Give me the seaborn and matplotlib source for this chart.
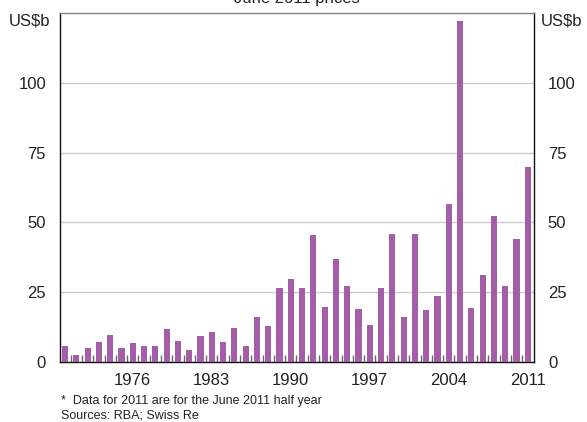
import matplotlib
matplotlib.use("Agg")
import matplotlib.pyplot as plt
import numpy as np
import pandas as pd
import seaborn as sns

# insured catastrophe losses by year, US$b in June 2011 prices (2011 = first half only)
years = list(range(1970, 2012))
losses = [
    5.6, 2.4, 4.9, 7.1, 9.6, 4.9, 6.7, 5.6, 5.6, 11.8,
    7.5, 4.2, 9.3, 10.7, 7.1, 12.1, 5.6, 16.1, 12.9, 26.6,
    29.8, 26.5, 45.5, 19.6, 36.9, 27.2, 18.9, 13.2, 26.5, 45.9,
    16.0, 45.9, 18.6, 23.6, 56.6, 122.0, 19.3, 31.1, 52.3, 27.2,
    44.1, 69.9,
]
year_labels = ["1976", "1983", "1990", "1997", "2004", "2011"]
y_ticks = [0, 25, 50, 75, 100]

BAR_COLOUR = "#a45ea8"

sns.set_theme(style="white")
plt.rcParams["font.family"] = ["Liberation Sans", "DejaVu Sans"]

df = pd.DataFrame({"year": [str(y) for y in years], "loss": losses})

fig = plt.figure(figsize=(5.87, 4.22), dpi=100)
ax = fig.add_axes([0.1022, 0.1422, 0.8075, 0.8268])

sns.barplot(data=df, x="year", y="loss", color=BAR_COLOUR, width=0.55,
            saturation=1, linewidth=0, ax=ax, zorder=3)

ax.set_ylim(0, 125)
ax.set_xlim(-0.45, 41.55)
ax.set_yticks(y_ticks)
ax.set_yticklabels([str(v) for v in y_ticks])
ax.yaxis.grid(True, color="#cccccc", linewidth=1, zorder=0)
ax.xaxis.grid(False)

# year labels sit under their own bars
label_pos = [years.index(int(y)) for y in year_labels]
ax.set_xticks(label_pos)
ax.set_xticklabels(year_labels)
ax.set_xticks(np.arange(0.5, len(years) - 1, 1), minor=True)
ax.tick_params(axis="x", which="major", length=0, labelsize=12, colors="#222222", pad=8)
ax.tick_params(axis="x", which="minor", direction="in", length=5, width=1,
               color="#666666", bottom=True)
ax.tick_params(axis="y", length=0, labelsize=12, labelcolor="#222222",
               labelleft=True, labelright=True, pad=10)
ax.set_xlabel("")
ax.set_ylabel("")

for side in ["left", "right", "bottom"]:
    ax.spines[side].set_color("#111111")
    ax.spines[side].set_linewidth(1)
ax.spines["top"].set_color("#808080")
ax.spines["top"].set_linewidth(1)
ax.spines["top"].set_visible(True)

fig.text(0.0855, 0.951, "US$b", ha="right", va="center", fontsize=12, color="#222222")
fig.text(0.921, 0.951, "US$b", ha="left", va="center", fontsize=12, color="#222222")
fig.text(0.506, 0.985, "June 2011 prices", ha="center", va="bottom", fontsize=12, color="#222222")

fig.text(0.104, 0.049, "*  Data for 2011 are for the June 2011 half year", fontsize=9,
         color="#222222", va="center")
fig.text(0.104, 0.016, "Sources: RBA; Swiss Re", fontsize=9, color="#222222", va="center")

fig.savefig("out.png", dpi=100)
